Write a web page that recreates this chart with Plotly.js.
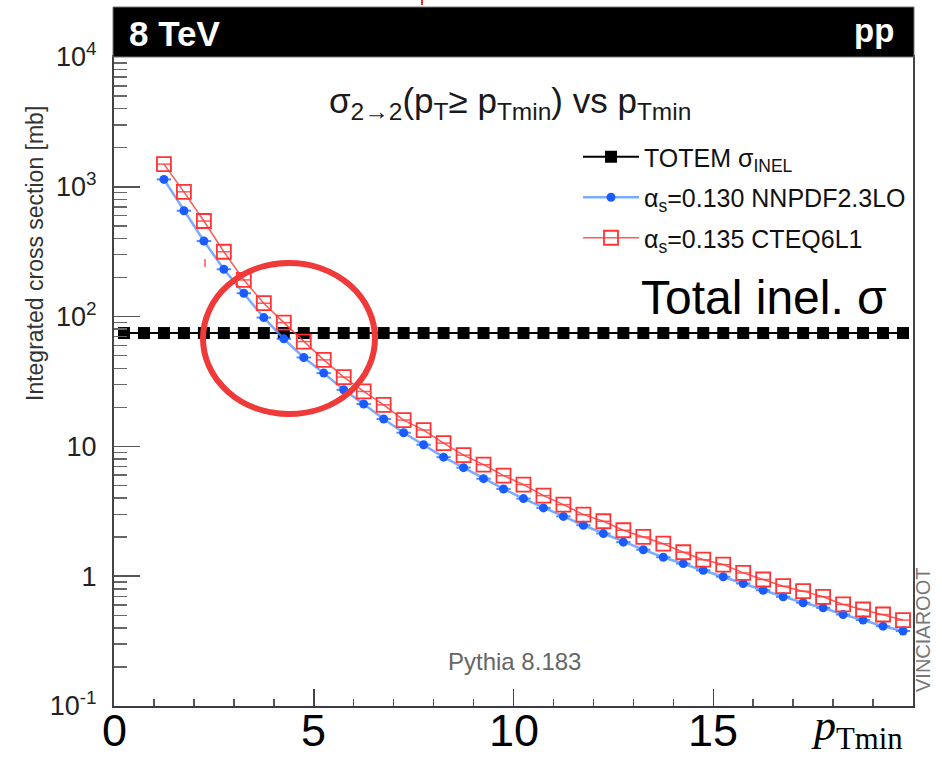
<!DOCTYPE html>
<html>
<head>
<meta charset="utf-8">
<script src="https://cdn.plot.ly/plotly-3.0.1.min.js"></script>
<style>
html,body{margin:0;padding:0;background:#fff;}
#chart{width:942px;height:759px;}
</style>
</head>
<body>
<div id="chart"></div>
<script>
// ---- data ----
const ptTotem = [0.25,0.75,1.25,1.75,2.25,2.75,3.25,3.75,4.25,4.75,5.25,5.75,6.25,6.75,7.25,7.75,8.25,8.75,9.25,9.75,
                 10.25,10.75,11.25,11.75,12.25,12.75,13.25,13.75,14.25,14.75,15.25,15.75,16.25,16.75,17.25,17.75,18.25,18.75,19.25,19.75];
const sigmaTotem = [74.7,74.7,74.7,74.7,74.7,74.7,74.7,74.7,74.7,74.7,74.7,74.7,74.7,74.7,74.7,74.7,74.7,74.7,74.7,74.7,
                    74.7,74.7,74.7,74.7,74.7,74.7,74.7,74.7,74.7,74.7,74.7,74.7,74.7,74.7,74.7,74.7,74.7,74.7,74.7,74.7];
const ptMin = [1.25,1.75,2.25,2.75,3.25,3.75,4.25,4.75,5.25,5.75,6.25,6.75,7.25,7.75,8.25,8.75,9.25,9.75,
               10.25,10.75,11.25,11.75,12.25,12.75,13.25,13.75,14.25,14.75,15.25,15.75,16.25,16.75,17.25,17.75,18.25,18.75,19.25,19.75];
const sigmaNNPDF = [1140,654,382,231.5,151.4,98.2,67.4,48.4,36.7,27.3,21.2,16.25,12.75,10.3,8.26,6.86,5.64,4.70,
                    3.96,3.36,2.89,2.47,2.13,1.83,1.60,1.40,1.25,1.11,0.99,0.879,0.780,0.694,0.624,0.571,0.507,0.459,0.412,0.378];
const sigmaCTEQ = [1495,915,545,316,191.6,126.8,89.9,64.2,46.4,34.2,26.5,20.9,15.96,13.37,10.6,8.56,7.23,5.95,
                   5.08,4.18,3.56,2.98,2.65,2.26,2.01,1.78,1.53,1.34,1.23,1.06,0.943,0.838,0.767,0.694,0.606,0.554,0.507,0.459];
const seriesNames = ['TOTEM σ<sub>INEL</sub>', 'α<sub>s</sub>=0.130 NNPDF2.3LO', 'α<sub>s</sub>=0.135 CTEQ6L1'];
const xTickVals = [0,5,10,15];
const xTickText = ['0','5','10','15'];
const yTickVals = [0.1,1,10,100,1000,10000];
const yTickText = ['10<sup>-1</sup>','1','10','10<sup>2</sup>','10<sup>3</sup>','10<sup>4</sup>'];

// minor tick positions for the log axis (2..9 in each decade)
const yMinor = [];
for (let d = -1; d < 4; d++) { for (let k = 2; k <= 9; k++) yMinor.push(k * Math.pow(10, d)); }

const SANS = "'Liberation Sans', Arial, sans-serif";

const traces = [
  {
    x: ptTotem, y: sigmaTotem, name: seriesNames[0], type: 'scatter', mode: 'lines+markers',
    line: {color: '#000', width: 2},
    marker: {symbol: 'square', size: 12, color: '#000'},
    legendgroup: 'a'
  },
  {
    x: ptMin, y: sigmaNNPDF, name: seriesNames[1], type: 'scatter', mode: 'lines+markers',
    line: {color: 'rgba(90,150,255,0.8)', width: 2.5},
    marker: {symbol: 'circle', size: 9, color: '#1a5cff'},
    error_x: {type: 'constant', value: 0.18, width: 0, thickness: 2, color: 'rgba(40,110,255,0.8)'},
    legendgroup: 'b'
  },
  {
    x: ptMin, y: sigmaCTEQ, name: seriesNames[2], type: 'scatter', mode: 'lines+markers',
    line: {color: 'rgba(255,60,60,0.85)', width: 1.5},
    marker: {symbol: 'square-open', size: 14, color: '#ff3333', line: {width: 1.8, color: '#ff3333'}},
    error_x: {type: 'constant', value: 0.18, width: 0, thickness: 1.5, color: 'rgba(255,60,60,0.85)'},
    legendgroup: 'c'
  }
];

const W = 942, H = 759, L = 114, R = 29, T = 57, B = 53;
const pw = W - L - R, ph = H - T - B;
const px = v => (v - L) / pw;          // pixel -> paper x
const py = v => (H - B - v) / ph;      // pixel -> paper y

const annotations = [
  {xref: 'paper', yref: 'paper', x: px(127), y: py(33), xanchor: 'left', yanchor: 'middle', showarrow: false,
   text: '<b>8 TeV</b>', font: {family: SANS, size: 35, color: '#fff'}},
  {xref: 'paper', yref: 'paper', x: px(896), y: py(31), xanchor: 'right', yanchor: 'middle', showarrow: false,
   text: '<b>pp</b>', font: {family: SANS, size: 33, color: '#fff'}},
  {xref: 'paper', yref: 'paper', x: px(510), y: py(103), xanchor: 'center', yanchor: 'middle', showarrow: false,
   text: 'σ<sub>2→2</sub>(p<sub>T</sub>≥ p<sub>Tmin</sub>) vs p<sub>Tmin</sub>', font: {family: SANS, size: 35, color: '#1a1a1a'}},
  {xref: 'paper', yref: 'paper', x: px(639), y: py(297), xanchor: 'left', yanchor: 'middle', showarrow: false,
   text: 'Total inel. σ', font: {family: SANS, size: 48, color: '#000'}},
  {xref: 'paper', yref: 'paper', x: px(514), y: py(661), xanchor: 'center', yanchor: 'middle', showarrow: false,
   text: 'Pythia 8.183', font: {family: SANS, size: 24, color: '#666'}},
  {xref: 'paper', yref: 'paper', x: px(923), y: py(630), xanchor: 'center', yanchor: 'middle', showarrow: false,
   textangle: -90, text: 'VINCIAROOT', font: {family: SANS, size: 20, color: '#777'}},
  {xref: 'paper', yref: 'paper', x: px(35), y: py(254), xanchor: 'center', yanchor: 'middle', showarrow: false,
   textangle: -90, text: 'Integrated cross section [mb]', font: {family: SANS, size: 23, color: '#333'}},
  {xref: 'paper', yref: 'paper', x: px(809), y: py(758), xanchor: 'left', yanchor: 'bottom', showarrow: false,
   text: '<i>p</i><sub>Tmin</sub>', font: {family: "'Liberation Serif', 'DejaVu Serif', serif", size: 44, color: '#000'}}
];
// x tick labels, placed at the tick values through the x axis scale
xTickVals.forEach((v, i) => annotations.push({
  xref: 'x', yref: 'paper', x: v, y: py(758), xanchor: 'center', yanchor: 'bottom', showarrow: false,
  text: xTickText[i], font: {family: SANS, size: 45, color: '#000'}
}));

const layout = {
  width: W, height: H,
  margin: {l: L, r: R, t: T, b: B, pad: 0},
  paper_bgcolor: '#fff', plot_bgcolor: '#fff',
  showlegend: true,
  legend: {
    x: px(578), y: py(134), xanchor: 'left', yanchor: 'top',
    bgcolor: 'rgba(0,0,0,0)', borderwidth: 0,
    font: {family: SANS, size: 25, color: '#111'},
    itemwidth: 56, traceorder: 'grouped', tracegroupgap: 5
  },
  xaxis: {
    range: [0, 20], showgrid: false, zeroline: false,
    showline: true, linecolor: '#3a3a4a', linewidth: 2, mirror: true,
    ticks: 'inside', ticklen: 17, tickwidth: 1.5, tickcolor: '#444',
    tickmode: 'array', tickvals: xTickVals, ticktext: xTickText, showticklabels: false,
    minor: {ticks: 'inside', ticklen: 7, tickwidth: 1.5, tickcolor: '#555', dtick: 1, showgrid: false}
  },
  yaxis: {
    type: 'log', range: [-1, 4], showgrid: false, zeroline: false,
    showline: true, linecolor: '#444', linewidth: 2, mirror: true,
    ticks: 'inside', ticklen: 26, tickwidth: 1.5, tickcolor: '#555',
    tickmode: 'array', tickvals: yTickVals, ticktext: yTickText,
    tickfont: {family: SANS, size: 27, color: '#222'},
    ticklabelstandoff: 10,
    minor: {ticks: 'inside', ticklen: 13, tickwidth: 1.5, tickcolor: '#666', tickmode: 'array', tickvals: yMinor, showgrid: false}
  },
  shapes: [
    {type: 'rect', xref: 'paper', yref: 'paper', x0: px(113), x1: px(914), y0: py(57), y1: py(7),
     fillcolor: '#000', line: {color: '#777', width: 1}, layer: 'above'},
    {type: 'circle', xref: 'paper', yref: 'paper', x0: px(203), x1: px(375), y0: py(414), y1: py(263),
     line: {color: '#f03a3a', width: 6}, fillcolor: 'rgba(0,0,0,0)', layer: 'above'},
    {type: 'line', xref: 'paper', yref: 'paper', x0: px(205), x1: px(205), y0: py(267), y1: py(259),
     line: {color: '#f03030', width: 1.2}},
    {type: 'line', xref: 'paper', yref: 'paper', x0: px(422), x1: px(422), y0: py(5), y1: py(0),
     line: {color: '#f03030', width: 2}}
  ],
  annotations: annotations
};

Plotly.newPlot('chart', traces, layout, {displayModeBar: false, staticPlot: true});
</script>
</body>
</html>
